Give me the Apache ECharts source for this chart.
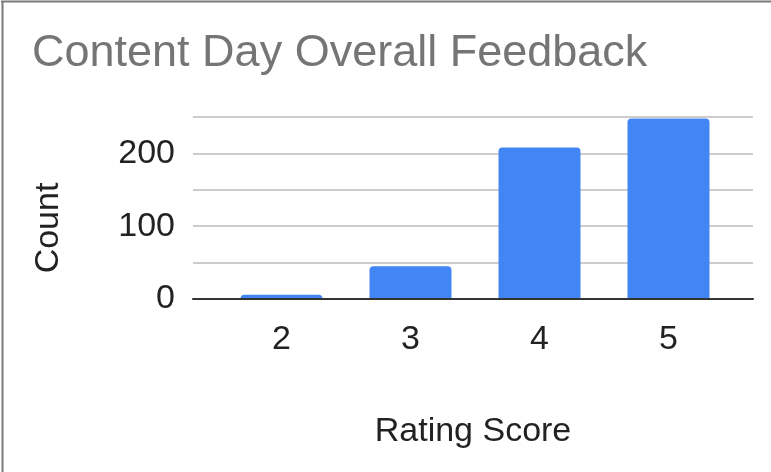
<!DOCTYPE html>
<html>
<head>
<meta charset="utf-8">
<script src="https://cdn.jsdelivr.net/npm/echarts@6/dist/echarts.min.js"></script>
<style>
html, body { margin: 0; padding: 0; background: #fff; }
#chart { width: 771px; height: 472px; }
</style>
</head>
<body>
<div id="chart"></div>
<script>
var titleText = 'Content Day Overall Feedback';
var ratingScores = ['2', '3', '4', '5'];
var counts = [6, 45, 208, 248];
var yMax = 250;
var yStep = 50;
var yLabelStep = 100;

var fontFamily = '"Liberation Sans", Arial, sans-serif';

function _getOption() {
	var option = {
		animation: false,
		title: {
			text: titleText,
			left: 32,
			top: 31,
			padding: 0,
			textStyle: {
				color: '#757575',
				fontSize: 45,
				fontWeight: 'normal',
				fontFamily: fontFamily
			}
		},
		// two grids: the outer one holds the gridlines, the inner one the bars
		grid: [
			{ left: 193, right: 18, top: 117, bottom: 173 },
			{ left: 217, right: 38, top: 117, bottom: 173 }
		],
		xAxis: [
			{
				gridIndex: 0,
				type: 'value',
				min: 0,
				max: 1,
				z: 3,
				axisLine: { show: true, lineStyle: { color: '#333', width: 2 } },
				axisTick: { show: false },
				axisLabel: { show: false },
				splitLine: { show: false },
				name: 'Rating Score',
				nameLocation: 'middle',
				nameGap: 116,
				nameTextStyle: { color: '#222', fontSize: 34, fontFamily: fontFamily }
			},
			{
				gridIndex: 1,
				type: 'category',
				data: ratingScores,
				axisLine: { show: false },
				axisTick: { show: false },
				axisLabel: { color: '#222', fontSize: 34, fontFamily: fontFamily, margin: 24 }
			}
		],
		yAxis: [
			{
				gridIndex: 0,
				type: 'value',
				min: 0,
				max: yMax,
				interval: yStep,
				axisLine: { show: false },
				axisTick: { show: false },
				axisLabel: {
					color: '#222',
					fontSize: 34,
					fontFamily: fontFamily,
					margin: 18,
					formatter: function(v) {
						return v % yLabelStep === 0 ? v : '';
					}
				},
				splitLine: { lineStyle: { color: '#ccc', width: 2 } },
				name: 'Count',
				nameLocation: 'middle',
				nameGap: 127,
				nameTextStyle: {
					color: '#222',
					fontSize: 34,
					fontFamily: fontFamily,
					padding: [0, 40, 0, 0]
				}
			},
			{
				gridIndex: 1,
				type: 'value',
				min: 0,
				max: yMax,
				show: false
			}
		],
		graphic: [
			{ type: 'line', shape: { x1: 1, y1: 1.5, x2: 771, y2: 1.5 }, style: { stroke: '#7a7a7a', lineWidth: 2 } },
			{ type: 'line', shape: { x1: 2.5, y1: 1, x2: 2.5, y2: 472 }, style: { stroke: '#7a7a7a', lineWidth: 2 } }
		],
		series: [
			{
				type: 'bar',
				xAxisIndex: 1,
				yAxisIndex: 1,
				data: counts,
				barWidth: 82,
				itemStyle: { color: '#4285f4', borderRadius: [4, 4, 0, 0] }
			}
		]
	};
	return option;
}

var myChart = echarts.init(document.getElementById('chart'));
myChart.setOption(_getOption());
</script>
</body>
</html>
